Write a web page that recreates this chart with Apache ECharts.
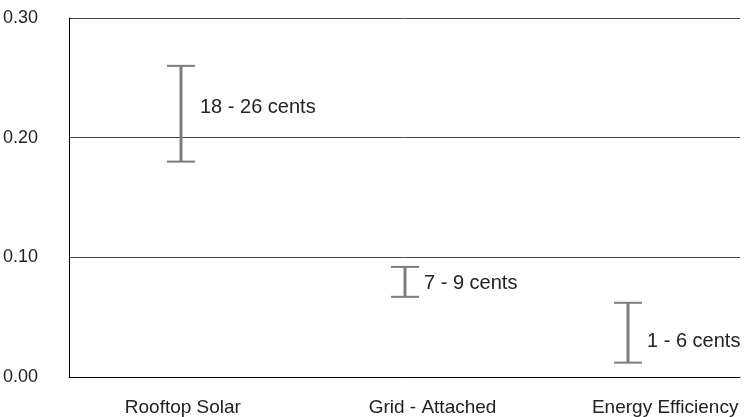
<!DOCTYPE html>
<html>
<head>
<meta charset="utf-8">
<script src="https://cdn.jsdelivr.net/npm/echarts@6/dist/echarts.min.js"></script>
<style>html,body{margin:0;padding:0;background:#fff}#c{width:745px;height:417px}</style>
</head>
<body>
<div id="c"></div>
<script>
var categories = ['Rooftop Solar', 'Grid - Attached', 'Energy Efficiency'];
var lowValues = [0.18, 0.067, 0.012];
var highValues = [0.26, 0.092, 0.062];
var rangeLabels = ['18 - 26 cents', '7 - 9 cents', '1 - 6 cents'];
var yTicks = [0, 0.1, 0.2, 0.3];

var chart = echarts.init(document.getElementById('c'));
var FONT = 'Liberation Sans';
var labelShift = [4, 56, 74];
var annoDy = [-6, 2, 9];

chart.setOption({
  animation: false,
  grid: { left: 69, right: 5, top: 18, bottom: 39 },
  xAxis: {
    type: 'category',
    data: categories,
    boundaryGap: true,
    axisLine: { show: true, lineStyle: { color: '#000', width: 1 } },
    axisTick: { show: false },
    axisLabel: {
      interval: 0,
      hideOverlap: false,
      margin: 21,
      color: '#222',
      fontFamily: FONT,
      fontSize: 19,
      formatter: function (v, i) { return '{r' + i + '|' + v + '}'; },
      rich: {
        r0: { padding: [0, 0, 0, labelShift[0]], fontFamily: FONT, fontSize: 19, color: '#222' },
        r1: { padding: [0, 0, 0, labelShift[1]], fontFamily: FONT, fontSize: 19, color: '#222' },
        r2: { padding: [0, 0, 0, labelShift[2]], fontFamily: FONT, fontSize: 19, color: '#222' }
      }
    }
  },
  yAxis: {
    type: 'value',
    min: 0,
    max: 0.3,
    interval: 0.1,
    axisLine: { show: true, lineStyle: { color: '#000', width: 1 } },
    axisTick: { show: false },
    splitLine: { show: true, lineStyle: { color: '#444', width: 1 } },
    axisLabel: {
      margin: 31,
      color: '#222',
      fontFamily: FONT,
      fontSize: 18,
      formatter: function (v) { return v.toFixed(2); }
    }
  },
  series: [{
    type: 'custom',
    data: categories.map(function (c, i) { return [i, lowValues[i], highValues[i]]; }),
    encode: { x: 0, y: [1, 2] },
    renderItem: function (params, api) {
      var i = api.value(0);
      var lo = api.coord([i, api.value(1)]);
      var hi = api.coord([i, api.value(2)]);
      var x = Math.round(lo[0]);
      var half = 14;
      var st = { stroke: '#7d7d7d', lineWidth: 3 };
      var capSt = { stroke: '#7d7d7d', lineWidth: 2 };
      return {
        type: 'group',
        children: [
          { type: 'line', shape: { x1: x, y1: hi[1], x2: x, y2: lo[1] }, style: st },
          { type: 'line', shape: { x1: x - half, y1: hi[1], x2: x + half, y2: hi[1] }, style: capSt },
          { type: 'line', shape: { x1: x - half, y1: lo[1], x2: x + half, y2: lo[1] }, style: capSt },
          {
            type: 'text',
            x: x + 19,
            y: (lo[1] + hi[1]) / 2 + annoDy[params.dataIndex],
            style: {
              text: rangeLabels[params.dataIndex],
              fill: '#222',
              font: '20px "' + FONT + '"',
              textAlign: 'left',
              textVerticalAlign: 'middle'
            }
          }
        ]
      };
    }
  }]
});
</script>
</body>
</html>
